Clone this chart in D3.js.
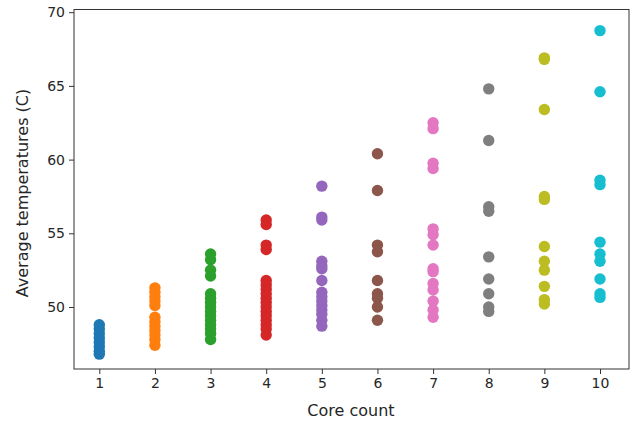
<!DOCTYPE html>
<html>
<head>
	<title> core temperatures </title>
	<script src="https://d3js.org/d3.v7.min.js"></script>
	<style>
		body { margin: 0; background: #fff; }
		text { font-family: "DejaVu Sans", sans-serif; fill: #262626; }
	</style>
</head>
<body>
	<svg width="634" height="423"></svg>
	<script type="text/javascript">
		// one list of temperatures for each core count
		let cores = [1, 2, 3, 4, 5, 6, 7, 8, 9, 10];
		let temps1 = [48.8, 48.5, 48.2, 47.9, 47.6, 47.3, 47.0, 46.8];
		let temps2 = [51.3, 51.0, 50.7, 50.4, 50.1, 49.3, 49.0, 48.7, 48.4, 48.1, 47.8, 47.4];
		let temps3 = [53.6, 53.2, 52.5, 52.1, 50.9, 50.6, 50.3, 50.0, 49.7, 49.4, 49.1, 48.8, 48.5, 48.2, 47.8];
		let temps4 = [55.9, 55.6, 54.2, 53.9, 51.8, 51.5, 51.2, 50.9, 50.6, 50.3, 50.0, 49.7, 49.4, 49.1, 48.8, 48.5, 48.1];
		let temps5 = [58.2, 56.1, 55.9, 53.1, 52.8, 52.6, 51.8, 51.0, 50.7, 50.4, 50.1, 49.8, 49.5, 49.1, 48.7];
		let temps6 = [60.4, 57.9, 54.2, 53.75, 51.8, 50.9, 50.6, 50.0, 49.1];
		let temps7 = [62.5, 62.1, 59.75, 59.4, 55.3, 54.9, 54.2, 52.6, 52.4, 51.6, 51.15, 50.4, 49.8, 49.3];
		let temps8 = [64.8, 61.3, 56.8, 56.5, 53.4, 51.9, 50.9, 50.0, 49.7];
		let temps9 = [66.9, 66.8, 63.4, 57.5, 57.3, 54.1, 53.1, 52.5, 51.4, 50.5, 50.2];
		let temps10 = [68.75, 64.6, 58.6, 58.3, 54.4, 53.6, 53.1, 51.9, 50.9, 50.65];
		let allTemps = [temps1, temps2, temps3, temps4, temps5, temps6, temps7, temps8, temps9, temps10];
		let yTicks = [50, 55, 60, 65, 70];
		let colorSet = ["#1f77b4", "#ff7f0e", "#2ca02c", "#d62728", "#9467bd",
		                "#8c564b", "#e377c2", "#7f7f7f", "#bcbd22", "#17becf"];

		let svg = d3.select("svg");
		let plotLeft = 74, plotRight = 629, plotTop = 9.5, plotBottom = 369;

		let x = d3.scaleLinear().domain([1, 10]).range([99.3, 600]);
		let y = d3.scaleLinear().domain([50, 70]).range([307, 12.2]);

		// dots
		allTemps.forEach(function(list, i) {
			svg.append("g").selectAll("circle")
				.data(list)
				.join("circle")
				.attr("cx", x(cores[i]))
				.attr("cy", function(d) { return y(d); })
				.attr("r", 5.7)
				.attr("fill", colorSet[i]);
		});

		// frame
		svg.append("rect")
			.attr("x", plotLeft).attr("y", plotTop)
			.attr("width", plotRight - plotLeft).attr("height", plotBottom - plotTop)
			.attr("fill", "none").attr("stroke", "#333").attr("stroke-width", 1);

		let xAxis = svg.append("g")
			.attr("transform", "translate(0," + plotBottom + ")")
			.call(d3.axisBottom(x).tickValues(cores).tickSize(5).tickPadding(4).tickFormat(d3.format("d")));
		let yAxis = svg.append("g")
			.attr("transform", "translate(" + plotLeft + ",0)")
			.call(d3.axisLeft(y).tickValues(yTicks).tickSize(5).tickPadding(4));
		[xAxis, yAxis].forEach(function(a) {
			a.select(".domain").remove();
			a.selectAll("line").attr("stroke", "#333");
			a.selectAll("text").style("font-size", "14px").style("font-family", "DejaVu Sans").attr("fill", "#262626");
		});

		svg.append("text")
			.attr("x", 351).attr("y", 416)
			.attr("text-anchor", "middle")
			.style("font-size", "16px")
			.text("Core count");
		svg.append("text")
			.attr("transform", "translate(28,193) rotate(-90)")
			.attr("text-anchor", "middle")
			.style("font-size", "16px")
			.text("Average temperatures (C)");
	</script>
</body>
</html>
